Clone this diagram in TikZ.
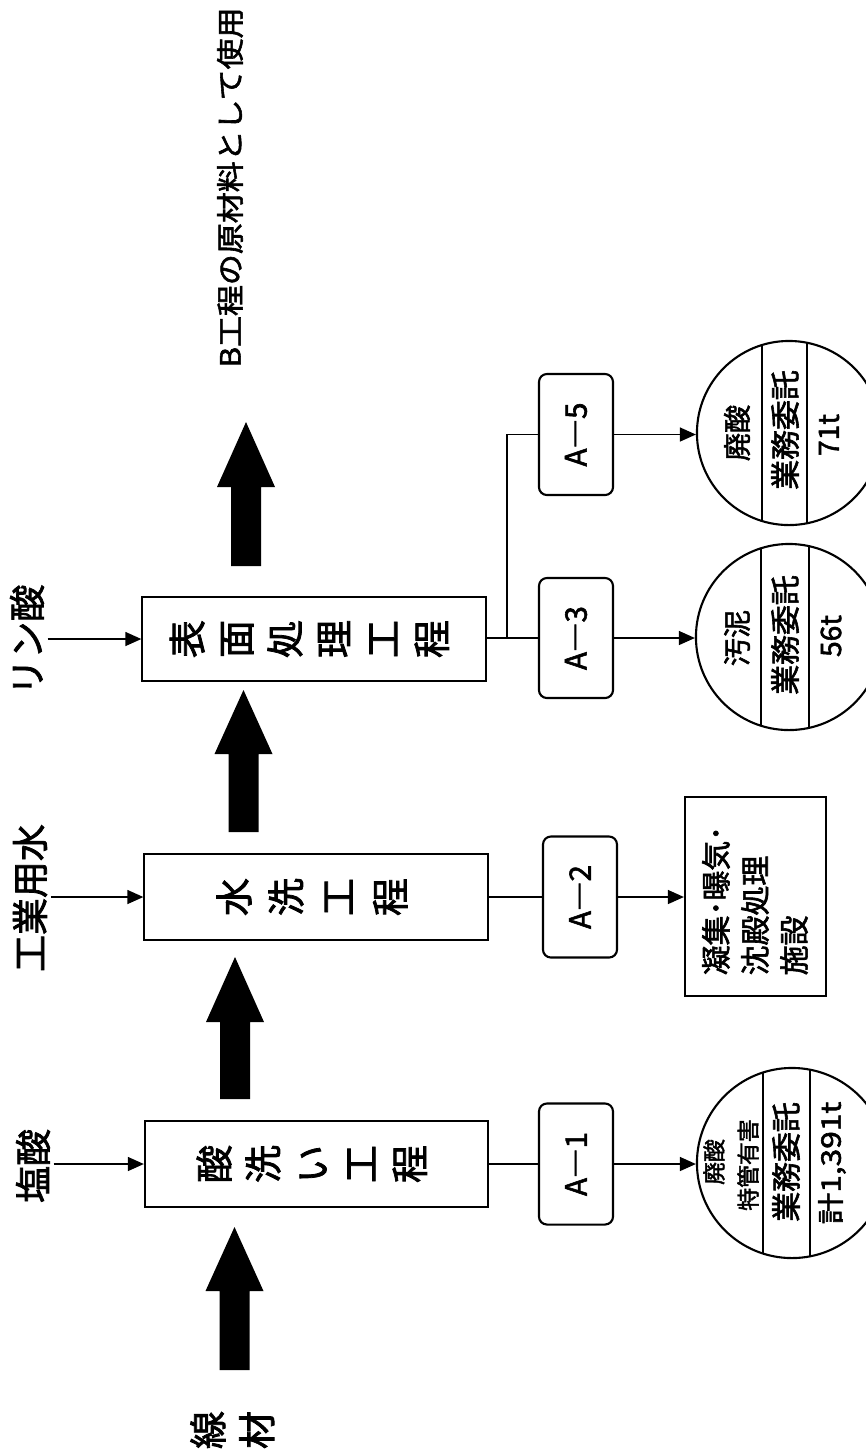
\documentclass[tikz,border=0pt]{standalone}
\usepackage{fontspec}
\setmainfont{Noto Sans CJK JP}[FakeBold=2,AutoFakeBold=2]
\usepackage{graphicx}
\usetikzlibrary{arrows.meta}
\newcommand{\rottext}[3]{\rotatebox{90}{\fontsize{#1}{#2}\selectfont #3}}
\newcommand{\rotsq}[3]{\rotatebox{90}{\scalebox{1}[#2]{\fontsize{#1}{#1}\selectfont #3}}}
\newcommand{\colstack}[3]{\rotatebox{90}{\fontsize{#1}{#2}\selectfont\begin{tabular}{@{}c@{}}#3\end{tabular}}}
\newcommand{\bigarr}[5]{%
  \coordinate (#1s) at (#2,#5);
  \coordinate (#1e) at (#2,#3);
  \fill (#2-29,#4) -- (#1e) -- (#2+29,#4) -- (#2+15,#4) -- (#2+15,#5) -- (#2-15,#5) -- (#2-15,#4) -- cycle;}
\begin{document}
\begin{tikzpicture}[x=0.01cm,y=-0.01cm,
  procbox/.style={draw,line width=0.6pt,inner sep=0pt,minimum width=3.43cm,minimum height=0.86cm},
  abox/.style={draw,line width=0.6pt,rounded corners=0.08cm,inner sep=0pt,minimum width=0.74cm,minimum height=1.21cm},
  facbox/.style={draw,line width=0.6pt,inner sep=0pt,minimum width=1.41cm,minimum height=1.99cm},
  wcirc/.style={draw,circle,line width=0.6pt,inner sep=0pt},
  conn/.style={line width=0.4pt},
  arr/.style={line width=0.4pt,-{Triangle[length=0.16cm,width=0.14cm]}},
  txt/.style={inner sep=0pt}
]
\useasboundingbox (0,0) rectangle (866,1456);
\fill[white] (0,0) rectangle (866,1456);
\clip (0,0) rectangle (866,1456);

% process boxes
\node[procbox] (p1) at (316.5,1164) {\colstack{10.8pt}{13.9pt}{酸\\洗\\い\\工\\程}};
\node[procbox] (p2) at (316,897) {\colstack{10.8pt}{14.8pt}{水\\洗\\工\\程}};
\node[procbox,minimum height=0.84cm] (p3) at (314,639) {\colstack{10.8pt}{13.9pt}{表\\面\\処\\理\\工\\程}};

% inputs
\node[txt] (l0) at (237,1430) {\colstack{10.8pt}{13.9pt}{線\\材}};
\node[txt] (l1) at (33,1166) {\rottext{10.5pt}{12pt}{塩酸}};
\node[txt] (l2) at (30,898) {\rottext{10.5pt}{12pt}{工業用水}};
\node[txt] (l3) at (27,640) {\rottext{10.5pt}{12pt}{リン酸}};
\draw[arr] ([xshift=0.03cm]l1.east |- p1.west) -- (p1.west);
\draw[arr] ([xshift=0.03cm]l2.east |- p2.west) -- (p2.west);
\draw[arr] ([xshift=0.03cm]l3.east |- p3.west) -- (p3.west);

% big flow arrows
\bigarr{baa}{234.5}{1227}{1291}{1370}
\bigarr{bab}{235}{957}{1022}{1099}
\bigarr{bac}{243.5}{690}{754}{832}
\bigarr{bad}{246}{422}{487}{566}

% output text
\node[txt,anchor=south] (out) at (230,368) {\rotsq{8.8pt}{0.9}{B工程の原材料として使用}};

% A boxes
\node[abox] (a1) at (576,1164) {\rottext{8.4pt}{10pt}{A―1}};
\node[abox] (a2) at (580,897) {\rottext{8.4pt}{10pt}{A―2}};
\node[abox,minimum height=1.20cm] (a3) at (576,638) {\rottext{8.4pt}{10pt}{A―3}};
\node[abox] (a5) at (576,434.5) {\rottext{8.4pt}{10pt}{A―5}};

% connectors from processes
\draw[conn] (p1.east) -- (a1.west);
\draw[conn] (p2.east) -- (a2.west);
\coordinate (br) at (507,638);
\draw[conn] (p3.east |- a3.west) -- (a3.west);
\draw[conn] (br) |- (a5.west);

% facility box
\node[facbox] (f) at (755.5,896.5) {};
\node[txt,anchor=south] (f1) at (716,976) {\rottext{8.5pt}{9pt}{凝集･曝気･}};
\node[txt,anchor=south] (f2) at (755,976) {\rottext{8.5pt}{9pt}{沈殿処理}};
\node[txt,anchor=south] (f3) at (794,976) {\rottext{8.5pt}{9pt}{施設}};
\draw[arr] (a2.east) -- (a2.east -| f.west);

% circles
\node[wcirc,minimum size=1.9cm] (c1) at (792,1163) {};
\node[wcirc,minimum size=1.86cm] (c3) at (789,637) {};
\node[wcirc,minimum size=1.84cm] (c5) at (789,433) {};
\draw[arr] (a1.east) -- (a1.east -| c1.west);
\draw[arr] (a3.east) -- (a3.east -| c3.west);
\draw[arr] (a5.east) -- (a5.east -| c5.west);

\begin{scope}
\clip (c1.center) circle[radius=0.95cm];
\draw[conn] ([xshift=-0.29cm]c1.north) -- ([xshift=-0.29cm]c1.south);
\draw[conn] ([xshift=0.18cm]c1.north) -- ([xshift=0.18cm]c1.south);
\end{scope}
\begin{scope}
\clip (c3.center) circle[radius=0.93cm];
\draw[conn] ([xshift=-0.28cm]c3.north) -- ([xshift=-0.28cm]c3.south);
\draw[conn] ([xshift=0.20cm]c3.north) -- ([xshift=0.20cm]c3.south);
\end{scope}
\begin{scope}
\clip (c5.center) circle[radius=0.92cm];
\draw[conn] ([xshift=-0.27cm]c5.north) -- ([xshift=-0.27cm]c5.south);
\draw[conn] ([xshift=0.18cm]c5.north) -- ([xshift=0.18cm]c5.south);
\end{scope}

% circle texts
\node[txt] (c1a) at (714,1162) {\rottext{6.5pt}{7pt}{廃酸}};
\node[txt] (c1b) at (748,1165) {\rottext{6.5pt}{7pt}{特管有害}};
\node[txt] (c1c) at (786,1162) {\rottext{8.5pt}{9pt}{業務委託}};
\node[txt] (c1d) at (832,1163) {\rotsq{9pt}{0.85}{計1,391t}};

\node[txt] (c3a) at (737,638) {\rottext{8pt}{9pt}{汚泥}};
\node[txt] (c3b) at (785,635) {\rottext{8.5pt}{9pt}{業務委託}};
\node[txt] (c3c) at (831,636) {\rottext{8pt}{9pt}{56t}};

\node[txt] (c5a) at (737,433) {\rottext{8pt}{9pt}{廃酸}};
\node[txt] (c5b) at (785,430) {\rottext{8.5pt}{9pt}{業務委託}};
\node[txt] (c5c) at (829,435) {\rottext{8pt}{9pt}{71t}};
\end{tikzpicture}
\end{document}
